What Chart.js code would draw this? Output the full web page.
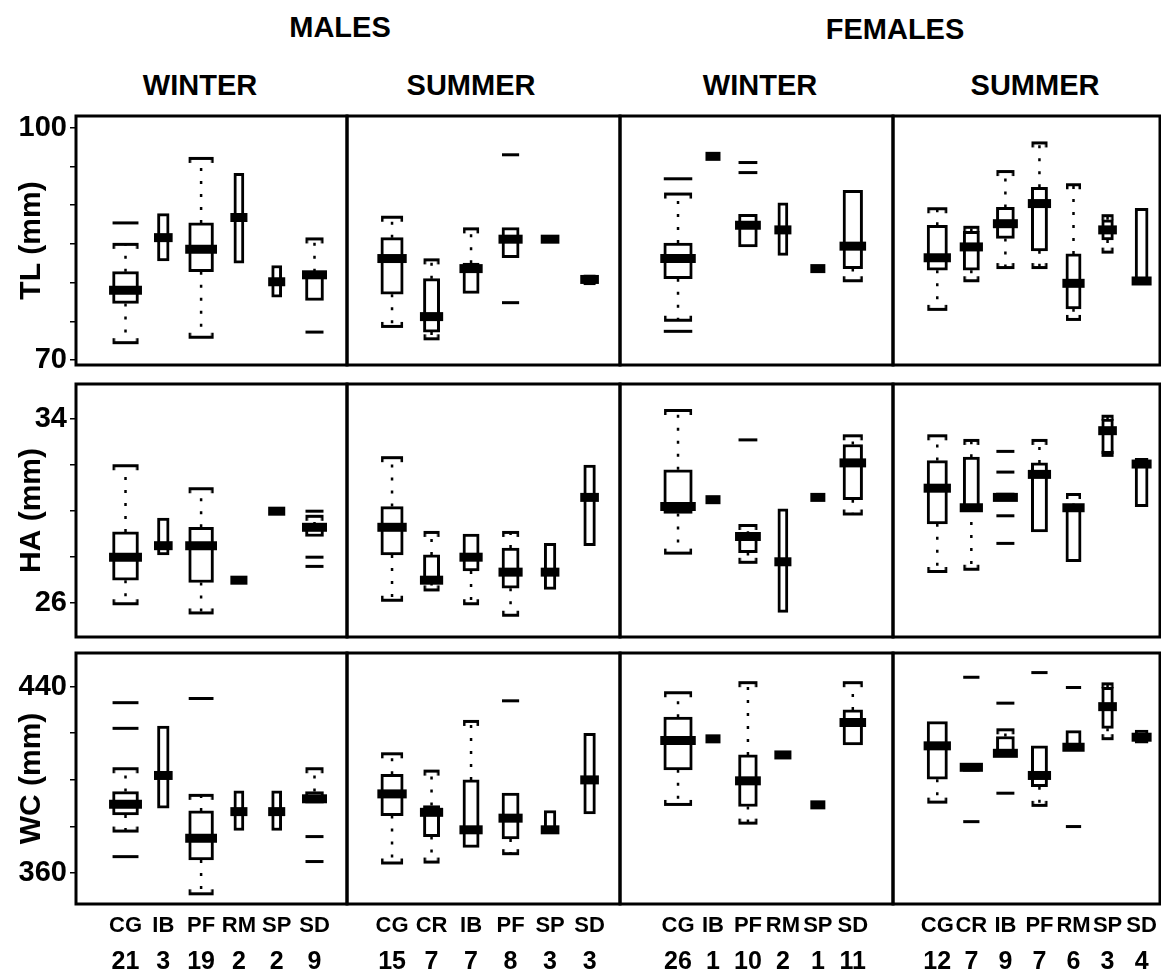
<!DOCTYPE html>
<html>
<head>
<meta charset="utf-8">
<script src="https://cdn.jsdelivr.net/npm/chart.js@4.4.1/dist/chart.umd.min.js"></script>
<style>
  body { margin: 0; background: #fff; width: 1161px; height: 977px; position: relative; overflow: hidden;
         font-family: "Liberation Sans", Arial, sans-serif; color: #000; }
  .panel { position: absolute; }
  .ttl { position: absolute; font-size: 29px; line-height: 29px; font-weight: bold; white-space: nowrap; transform: translateX(-50%); }
</style>
</head>
<body>
<div class="ttl" style="left:340px;top:13px">MALES</div>
<div class="ttl" style="left:895px;top:15px">FEMALES</div>
<div class="ttl" style="left:200px;top:71px">WINTER</div>
<div class="ttl" style="left:471px;top:71px">SUMMER</div>
<div class="ttl" style="left:760px;top:71px">WINTER</div>
<div class="ttl" style="left:1035px;top:71px">SUMMER</div>
<script>
// groups (categories) and sample sizes
const catsMW = ['CG', 'IB', 'PF', 'RM', 'SP', 'SD'];
const nMW = [21, 3, 19, 2, 2, 9];
const catsMS = ['CG', 'CR', 'IB', 'PF', 'SP', 'SD'];
const nMS = [15, 7, 7, 8, 3, 3];
const catsFW = ['CG', 'IB', 'PF', 'RM', 'SP', 'SD'];
const nFW = [26, 1, 10, 2, 1, 11];
const catsFS = ['CG', 'CR', 'IB', 'PF', 'RM', 'SP', 'SD'];
const nFS = [12, 7, 9, 7, 6, 3, 4];

// box stats: [lower whisker, Q1, median, Q3, upper whisker], null = not drawn
const tlMW = [[72.3, 77.3, 79.0, 81.4, 85.0], [null, 82.8, 85.8, 88.9, null], [73.0, 81.4, 84.3, 87.7, 96.1],
              [null, 82.5, 88.4, 94.1, null], [null, 78.1, 80.1, 82.2, null], [null, 77.7, 81.0, 81.4, 85.7]];
const tlMWOut = [[87.7], [], [], [], [], [73.6]];
const tlMS = [[74.4, 78.5, 83.1, 85.8, 88.5], [72.8, 73.6, 75.6, 80.5, 83.0], [null, 78.6, 81.8, 82.5, 87.0],
              [null, 83.2, 85.6, 87.1, null], [null, 85.4, 85.6, 85.8, null], [null, 79.7, 80.4, 81.0, null]];
const tlMSOut = [[], [], [], [96.5, 77.4], [], []];
const tlFW = [[75.2, 80.5, 83.1, 85.1, 91.5], [null, null, 96.3, null, null], [null, 84.6, 87.4, 88.8, null],
              [null, 83.5, 86.8, 90.3, null], [null, null, 81.8, null, null], [80.3, 81.8, 84.7, 91.9, null]];
const tlFWOut = [[93.4, 73.7], [], [95.5, 94.2], [], [], []];
const tlFS = [[76.6, 81.6, 83.2, 87.4, 89.6], [80.3, 81.6, 84.6, 86.6, 87.2], [82.0, 85.7, 87.6, 89.7, 94.4],
              [82.0, 84.1, 90.2, 92.3, 98.1], [75.3, 76.6, 79.9, 83.7, 92.7], [84.0, 85.5, 86.8, 88.1, 88.7],
              [null, 79.9, 80.2, 89.6, null]];
const tlFSOut = [[], [], [], [], [], [], []];

const haMW = [[26.0, 27.0, 28.0, 29.1, 32.0], [null, 28.1, 28.5, 29.7, null], [25.6, 26.9, 28.5, 29.3, 31.0],
              [null, null, 27.0, null, null], [null, null, 30.0, null, null], [null, 28.9, 29.3, 29.4, 29.8]];
const haMWOut = [[], [], [], [], [], [30.0, 28.0, 27.6]];
const haMS = [[26.15, 28.1, 29.3, 30.2, 32.35], [26.6, 26.9, 27.0, 28.1, 29.1], [26.0, 27.4, 28.0, 29.0, null],
              [25.5, 26.65, 27.35, 28.4, 29.1], [null, 26.6, 27.35, 28.6, null], [null, 28.5, 30.6, 32.0, null]];
const haMSOut = [[], [], [], [], [], []];
const haFW = [[28.2, 29.9, 30.2, 31.8, 34.4], [null, null, 30.5, null, null], [27.8, 28.2, 28.9, 29.0, 29.4],
              [null, 25.6, 27.8, 30.1, null], [null, null, 30.6, null, null], [29.9, 30.5, 32.1, 32.9, 33.3]];
const haFWOut = [[], [], [33.1], [], [], []];
const haFS = [[27.4, 29.45, 31.0, 32.2, 33.3], [27.5, 30.1, 30.15, 32.35, 33.1], [null, 30.5, 30.6, 30.8, null],
              [null, 29.1, 31.6, 32.1, 33.1], [null, 27.8, 30.15, 30.2, 30.75], [32.45, 32.5, 33.5, 34.0, 34.15],
              [null, 30.2, 32.05, 32.3, null]];
const haFSOut = [[], [], [32.6, 31.7, 29.8, 28.6], [], [], [], []];

const wcMW = [[378.3, 385, 389.6, 395, 405], [null, 387.9, 401.9, 423.1, null], [351.4, 365.7, 375, 386.7, 393.6],
              [null, 378.3, 386.4, 395.3, null], [null, 378.3, 386.4, 395.3, null], [null, 390, 391.9, 395, 405]];
const wcMWOut = [[433.1, 422.1, 367.1], [], [434.9], [], [], [375.7, 365]];
const wcMS = [[364.6, 384.7, 394, 402.4, 411.4], [365, 375.7, 386.1, 389, 404], [null, 371.1, 378.6, 400, 425.3],
              [368.6, 374.7, 383.6, 394.3, null], [null, 377.1, 378.6, 386.9, null], [null, 385.4, 400, 420, null]];
const wcMSOut = [[], [], [], [433.9], [], []];
const wcFW = [[389.7, 404.3, 416.9, 426.9, 437.6], [null, null, 417.6, null, null], [381.7, 388.6, 399.6, 410.7, 441.9],
              [null, null, 410.7, null, null], [null, null, 389.3, null, null], [null, 415, 424.6, 430, 441.9]];
const wcFWOut = [[], [], [], [], [], []];
const wcFS = [[390.7, 400.3, 414.6, 425, null], [null, 403.6, 405.4, 407.1, null], [null, 411.4, 411.4, 418.6, 421.7],
              [389.3, 397.1, 401.9, 414.6, null], [null, 412.9, 414, 421.1, null], [417.9, 422.1, 431.4, 439.7, 441.4],
              [null, 415.7, 418.3, 421.4, null]];
const wcFSOut = [[], [444, 382.1], [432.9, 394.3], [446], [439.6, 380], [], []];

// y axis ticks
const tlTicks = [70, 75, 80, 85, 90, 95, 100];
const haTicks = [26, 28, 30, 32, 34];
const wcTicks = [360, 380, 400, 420, 440];

// layout
const colEdges = [76, 347, 620, 893, 1160];
const rowEdges = [[116, 365], [384, 637], [653, 904]];
const yLimits = [[69.35, 101.51], [24.53, 35.53], [346.8, 454.4]];
const xLimits = [[-1.31, 5.86], [-1.14, 5.77], [-1.66, 6.15], [-1.30, 6.54]];
const nameAxisH = 36, countAxisH = 40;

Chart.defaults.font.family = '"Liberation Sans", Arial, sans-serif';
Chart.defaults.font.weight = 'bold';
Chart.defaults.color = '#000';

const groups = [
    { cats: catsMW, n: nMW }, { cats: catsMS, n: nMS },
    { cats: catsFW, n: nFW }, { cats: catsFS, n: nFS }
];
const rows = [
    { title: 'TL (mm)', ticks: tlTicks, stats: [tlMW, tlMS, tlFW, tlFS], outs: [tlMWOut, tlMSOut, tlFWOut, tlFSOut] },
    { title: 'HA (mm)', ticks: haTicks, stats: [haMW, haMS, haFW, haFS], outs: [haMWOut, haMSOut, haFWOut, haFSOut] },
    { title: 'WC (mm)', ticks: wcTicks, stats: [wcMW, wcMS, wcFW, wcFS], outs: [wcMWOut, wcMSOut, wcFWOut, wcFSOut] }
];

// box width grows with sample size
function boxW(n) { return 5 * Math.sqrt(n) + 3; }

// whisker end: bracket shaped line
const capCache = {};
function capImg(w, top) {
    const wi = Math.round(w);
    const key = wi + (top ? 't' : 'b');
    if (capCache[key]) return capCache[key];
    const cv = document.createElement('canvas');
    cv.width = wi + 2;
    cv.height = 16;
    const g = cv.getContext('2d');
    g.fillStyle = '#000';
    g.fillRect(1, 7, wi, 3);
    if (top) {
        g.fillRect(1, 7, 2.5, 6);
        g.fillRect(wi - 1.5, 7, 2.5, 6);
    } else {
        g.fillRect(1, 4, 2.5, 6);
        g.fillRect(wi - 1.5, 4, 2.5, 6);
    }
    capCache[key] = cv;
    return cv;
}

// panel frame
const frame = {
    id: 'frame',
    afterDatasetsDraw(chart) {
        const { ctx, chartArea: a } = chart;
        ctx.save();
        ctx.strokeStyle = '#000';
        ctx.lineWidth = 3;
        ctx.strokeRect(a.left, a.top, a.right - a.left, a.bottom - a.top);
        ctx.restore();
    }
};

function buildDatasets(stats, outs, n) {
    const ds = [];
    const whisk = [], topCaps = [], lowCaps = [], meds = [], outPts = [];
    // size of the group a point belongs to (falls back when resolved for the whole dataset)
    const wOf = ctx => (ctx.raw ? boxW(n[ctx.raw.x]) : 12);
    stats.forEach((s, i) => {
        const [lo, q1, md, q3, hi] = s;
        if (hi != null) { whisk.push({ x: i, y: q3 }, { x: i, y: hi }, { x: i, y: null }); topCaps.push({ x: i, y: hi }); }
        if (lo != null) { whisk.push({ x: i, y: q1 }, { x: i, y: lo }, { x: i, y: null }); lowCaps.push({ x: i, y: lo }); }
        if (q1 != null) {
            ds.push({
                type: 'bar', data: [{ x: i, y: [q1, q3] }], barThickness: boxW(n[i]),
                backgroundColor: '#fff', borderColor: '#000', borderWidth: 3, borderSkipped: false,
                grouped: false, order: 1
            });
        }
        meds.push({ x: i, y: md });
        outs[i].forEach(v => outPts.push({ x: i, y: v }));
    });
    ds.push({
        type: 'line', data: whisk, borderColor: '#000', borderWidth: 2.5, borderDash: [3, 10],
        pointRadius: 0, fill: false, tension: 0, spanGaps: false, order: 3
    });
    ds.push({
        type: 'scatter', data: topCaps, order: 2,
        pointStyle: ctx => capImg(wOf(ctx), true), pointRadius: 5
    });
    ds.push({
        type: 'scatter', data: lowCaps, order: 2,
        pointStyle: ctx => capImg(wOf(ctx), false), pointRadius: 5
    });
    ds.push({
        type: 'scatter', data: outPts, order: 2, pointStyle: 'line',
        pointRadius: ctx => Math.max(7, wOf(ctx) / 2),
        pointBorderColor: '#000', pointBorderWidth: 3
    });
    ds.push({
        type: 'scatter', data: meds, order: 0, pointStyle: 'line',
        pointRadius: ctx => wOf(ctx) / 2 + 3.5,
        pointBorderColor: '#000', pointBorderWidth: 9
    });
    return ds;
}

function makePanel(r, c) {
    const row = rows[r], grp = groups[c];
    const isLeft = c === 0, isBottom = r === rows.length - 1;
    const pad = { top: isLeft ? 20 : 4, bottom: isLeft ? 20 : 4, left: isLeft ? 0 : 4, right: 4 };
    const pl = colEdges[c], pr = colEdges[c + 1];
    const [pt, pb] = rowEdges[r];
    const div = document.createElement('div');
    div.className = 'panel';
    const left = isLeft ? 0 : pl - pad.left;
    div.style.left = left + 'px';
    div.style.top = (pt - pad.top) + 'px';
    div.style.width = (pr + pad.right - left) + 'px';
    div.style.height = (pb - pt + pad.top + pad.bottom + (isBottom ? nameAxisH + countAxisH : 0)) + 'px';
    const cv = document.createElement('canvas');
    div.appendChild(cv);
    document.body.appendChild(div);

    const ticks = row.ticks;
    const catTicks = s => { s.ticks = grp.cats.map((k, i) => ({ value: i })); };
    new Chart(cv, {
        type: 'scatter',
        data: { datasets: buildDatasets(row.stats[c], row.outs[c], grp.n) },
        options: {
            responsive: true, maintainAspectRatio: false, animation: false,
            layout: { padding: pad, autoPadding: false },
            events: [],
            plugins: { legend: { display: false }, tooltip: { enabled: false } },
            scales: {
                x: {
                    type: 'linear', min: xLimits[c][0], max: xLimits[c][1], offset: false,
                    display: isBottom, weight: 0,
                    grid: { display: false, drawTicks: false },
                    border: { display: false },
                    afterBuildTicks: catTicks,
                    ticks: {
                        callback: v => grp.cats[v],
                        font: { family: '"Liberation Sans Narrow", "Liberation Sans", Arial', size: 22, lineHeight: 1.2 },
                        maxRotation: 0, autoSkip: false, padding: 9
                    },
                    afterFit: s => { if (isBottom) { s.height = nameAxisH; s.paddingLeft = 0; s.paddingRight = 0; } }
                },
                x2: {
                    type: 'linear', position: 'bottom', min: xLimits[c][0], max: xLimits[c][1], offset: false,
                    display: isBottom, weight: 1,
                    grid: { display: false, drawTicks: false },
                    border: { display: false },
                    afterBuildTicks: catTicks,
                    ticks: {
                        callback: v => String(grp.n[v]),
                        font: { family: '"Liberation Sans Narrow", "Liberation Sans", Arial', size: 25, lineHeight: 1.2 },
                        maxRotation: 0, autoSkip: false, padding: 7
                    },
                    afterFit: s => { if (isBottom) { s.height = countAxisH; s.paddingLeft = 0; s.paddingRight = 0; } }
                },
                y: {
                    type: 'linear', min: yLimits[r][0], max: yLimits[r][1],
                    display: isLeft,
                    afterBuildTicks: s => { s.ticks = ticks.map(v => ({ value: v })); },
                    ticks: {
                        callback: v => (v === ticks[0] || v === ticks[ticks.length - 1]) ? String(v) : '',
                        font: { size: 29 }, padding: 3
                    },
                    grid: { display: true, drawOnChartArea: false, drawTicks: true, tickLength: 6, color: '#000', lineWidth: 1.5 },
                    border: { display: false },
                    title: { display: true, text: row.title, font: { size: 30 }, padding: { top: 14, bottom: 0 } },
                    afterFit: s => { if (isLeft) { s.width = colEdges[0]; s.paddingTop = 0; s.paddingBottom = 0; } }
                }
            }
        },
        plugins: [frame]
    });
}

for (let r = 0; r < rows.length; r++) {
    for (let c = 0; c < groups.length; c++) makePanel(r, c);
}
</script>
</body>
</html>
